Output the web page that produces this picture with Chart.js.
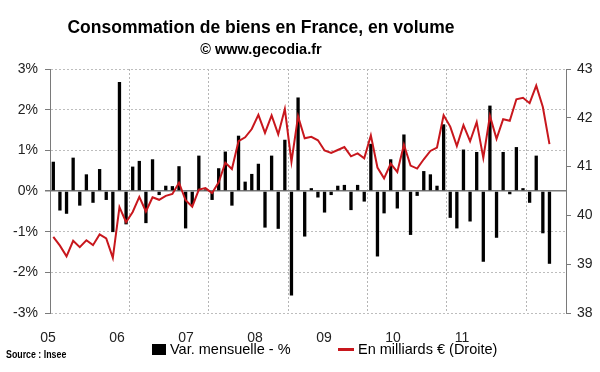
<!DOCTYPE html>
<html>
<head>
<meta charset="utf-8">
<script src="https://cdn.jsdelivr.net/npm/chart.js@4.4.1/dist/chart.umd.min.js"></script>
<style>
  html, body { margin: 0; padding: 0; background: #fff; }
  #wrap { position: relative; width: 600px; height: 372px; font-family: 'Liberation Sans', Arial, sans-serif; color: #000; overflow: hidden; }
  #chart { position: absolute; left: 0; top: 0; }
  .t { position: absolute; white-space: nowrap; }
  .title { left: 61px; width: 400px; text-align: center; font-weight: bold; font-size: 17.5px; line-height: 17.5px; top: 19px; }
  .sub { left: 61px; width: 400px; text-align: center; font-weight: bold; font-size: 14.5px; line-height: 14.5px; top: 42px; }
  .src { left: 6px; top: 349px; font-weight: bold; font-size: 10.5px; line-height: 10.5px; transform: scaleX(0.84); transform-origin: left center; }
  .lg { font-size: 14.5px; line-height: 14.5px; top: 342px; }
  .sq { position: absolute; left: 152px; top: 344px; width: 14px; height: 11px; background: #000; }
  .ln { position: absolute; left: 338px; top: 348px; width: 16px; height: 2.5px; background: #c8171d; }
</style>
</head>
<body>
<div id="wrap">
  <canvas id="chart" width="600" height="372"></canvas>
  <div class="t title">Consommation de biens en France, en volume</div>
  <div class="t sub">© www.gecodia.fr</div>
  <div class="t src">Source : Insee</div>
  <div class="sq"></div>
  <div class="t lg" style="left:170px">Var. mensuelle - %</div>
  <div class="ln"></div>
  <div class="t lg" style="left:358px">En milliards € (Droite)</div>
</div>
<script>
// year tick labels (drawn where the original puts them, not on the gridlines)
const years = ['05', '06', '07', '08', '09', '10', '11'];
const nbMonths = 78; // Jan 2005 .. Jun 2011 on the axis

// monthly change, % (Jan 2005 .. Apr 2011)
const varMensuelle = [
  0.72, -0.48, -0.56, 0.82, -0.36, 0.41, -0.29, 0.54, -0.22, -1.01, 2.68, -0.82,
  0.60, 0.74, -0.79, 0.78, -0.10, 0.13, 0.12, 0.61, -0.92, -0.34, 0.87, 0.04,
  -0.22, 0.56, 0.97, -0.36, 1.36, 0.23, 0.42, 0.67, -0.90, 0.87, -0.93, 1.26,
  -2.57, 2.30, -1.12, 0.07, -0.16, -0.53, -0.10, 0.13, 0.15, -0.47, 0.15, -0.26,
  1.16, -1.61, -0.55, 0.78, -0.43, 1.39, -1.08, -0.12, 0.49, 0.41, 0.13, 1.64,
  -0.66, -0.92, 1.02, -0.75, 0.96, -1.74, 2.10, -1.15, 0.96, -0.08, 1.08, 0.07,
  -0.29, 0.87, -1.04, -1.79
];

// level, billions of euros (right axis)
const milliards = [
  39.56, 39.38, 39.16, 39.48, 39.35, 39.49, 39.39, 39.61, 39.53, 39.13, 40.17, 39.86,
  40.07, 40.38, 40.08, 40.37, 40.32, 40.40, 40.44, 40.67, 40.31, 40.18, 40.53, 40.56,
  40.46, 40.68, 41.08, 40.95, 41.52, 41.60, 41.77, 42.06, 41.69, 42.05, 41.66, 42.18,
  41.10, 42.03, 41.58, 41.61, 41.54, 41.33, 41.28, 41.34, 41.40, 41.21, 41.27, 41.17,
  41.64, 40.98, 40.76, 41.06, 40.89, 41.45, 41.02, 40.96, 41.15, 41.32, 41.39, 42.05,
  41.82, 41.42, 41.85, 41.52, 41.91, 41.18, 42.04, 41.57, 41.97, 41.94, 42.38, 42.41,
  42.30, 42.66, 42.22, 41.46
];

const months = [];
for (const y of years) {
  for (let m = 1; m <= 12; m++) {
    if (months.length < nbMonths) months.push(m + '/' + y);
  }
}

Chart.defaults.font.family = "'Liberation Sans', Arial, sans-serif";

new Chart(document.getElementById('chart'), {
  data: {
    labels: months,
    datasets: [
      { type: 'line', label: 'En milliards € (Droite)', data: milliards, yAxisID: 'y1', xAxisID: 'x',
        borderColor: '#c8171d', borderWidth: 2, pointRadius: 0, tension: 0, order: 0 },
      { type: 'bar', label: 'Var. mensuelle - %', data: varMensuelle, yAxisID: 'y', xAxisID: 'x',
        backgroundColor: '#000', categoryPercentage: 1, barPercentage: 0.5, order: 1 }
    ]
  },
  options: {
    responsive: false, animation: false, devicePixelRatio: 1,
    layout: { padding: { top: 69, left: 0, right: 0, bottom: 0 } },
    plugins: { legend: { display: false }, tooltip: { enabled: false } },
    scales: {
      x: {
        type: 'category', offset: true,
        ticks: { display: false, autoSkip: false },
        grid: { offset: true, drawTicks: false,
          color: c => (c.index > 0 && c.index % 12 === 0) ? '#b5b5b5' : 'rgba(0,0,0,0)' },
        border: { display: false, dash: [2, 2] },
        afterFit: s => { s.height = 0; }
      },
      xYears: {
        type: 'linear', position: 'bottom', min: 0.029, max: 7.507,
        afterBuildTicks: s => { s.ticks = years.map((_, i) => ({ value: i })); },
        ticks: { callback: v => years[v], font: { size: 14 }, color: '#222', padding: 17, autoSkip: false, maxRotation: 0 },
        grid: { display: false, drawOnChartArea: false, drawTicks: false, color: 'rgba(0,0,0,0)', lineWidth: 0 },
        border: { display: false },
        afterFit: s => { s.height = 59; }
      },
      y: {
        position: 'left', min: -3, max: 3,
        ticks: { stepSize: 1, callback: v => v + '%', font: { size: 14 }, color: '#222', padding: 7 },
        grid: {
          color: c => c.tick.value === 0 ? '#7a7a7a' : '#bdbdbd',
          lineWidth: c => c.tick.value === 0 ? 1.5 : 1,
          tickColor: '#7a7a7a', tickLength: 5, tickBorderDash: []
        },
        border: { color: '#7a7a7a', dash: c => (c.type === 'tick' && c.tick.value !== 0) ? [2, 2] : [] },
        afterFit: s => { s.width = 50; }
      },
      y1: {
        position: 'right', min: 38, max: 43,
        ticks: { stepSize: 1, font: { size: 14 }, color: '#222', padding: 6 },
        grid: { drawOnChartArea: false, tickColor: '#7a7a7a', tickLength: 5 },
        border: { color: '#7a7a7a' },
        afterFit: s => { s.width = 34; }
      }
    }
  }
});
</script>
</body>
</html>
